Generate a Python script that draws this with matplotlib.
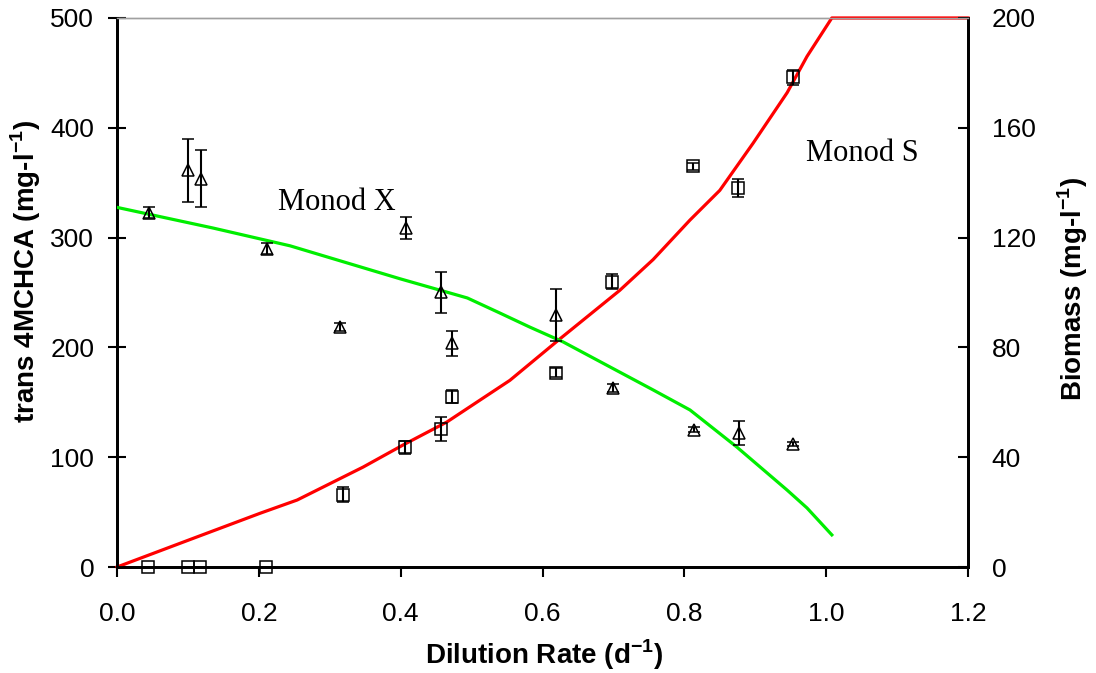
import matplotlib
matplotlib.use("Agg")
from matplotlib import pyplot as plt

# substrate (trans 4MCHCA) measurements, left axis
s_rate = [0.044, 0.100, 0.117, 0.210, 0.319, 0.406, 0.457, 0.472, 0.619, 0.698, 0.812, 0.876, 0.953]
s_conc = [0, 0, 0, 0, 66, 109, 126, 155, 177, 260, 365, 345, 446]
s_err = [0, 0, 0, 0, 7, 6, 11, 6, 4, 7, 3, 8, 7]

# biomass measurements, right axis
x_rate = [0.045, 0.100, 0.118, 0.211, 0.315, 0.408, 0.457, 0.472, 0.619, 0.700, 0.814, 0.877, 0.953]
x_conc = [129, 144.5, 141.5, 116, 87.5, 123.5, 100, 81.5, 91.8, 65.2, 50, 48.8, 44.8]
x_err = [2, 11.4, 10.5, 2, 1.5, 4, 7.6, 4.5, 9.5, 1.5, 1, 4.5, 0.8]

# monod model curves
ms_rate = [0, 0.107, 0.202, 0.254, 0.347, 0.403, 0.465, 0.554, 0.625, 0.709, 0.756,
           0.808, 0.850, 0.897, 0.945, 0.973, 1.008, 1.2]
ms_conc = [0, 26, 49, 61, 91, 111, 132, 170, 208, 252, 280, 316, 343, 386, 432, 465, 500, 500]

mx_rate = [0, 0.135, 0.244, 0.399, 0.494, 0.540, 0.582, 0.629, 0.695, 0.756, 0.808,
           0.874, 0.945, 0.973, 1.008]
mx_conc = [131, 123.5, 117, 105, 98, 92.5, 87.4, 82, 72.9, 64.5, 57.2, 43.7, 28, 21.5, 11.7]

plt.rcParams["font.family"] = ["Liberation Sans", "DejaVu Sans"]
plt.rcParams["mathtext.fontset"] = "custom"
plt.rcParams["mathtext.rm"] = "Liberation Sans"
plt.rcParams["mathtext.bf"] = "Liberation Sans:bold"

fig = plt.figure(figsize=(10.96, 6.73), dpi=100)
ax = fig.add_axes([0.1068, 0.1575, 0.7764, 0.8158])
ax2 = ax.twinx()

# model lines
ax.plot(ms_rate, ms_conc, color="#ff0000", lw=2.3, zorder=3, clip_on=False)
ax2.plot(mx_rate, mx_conc, color="#00ee00", lw=2.3, zorder=3)

# data with error bars
ax.errorbar(s_rate, s_conc, yerr=s_err, fmt="s", ms=8, mfc="none", mec="black",
            mew=1.1, ecolor="black", elinewidth=1.5, capsize=4, capthick=1.5,
            clip_on=False, zorder=4)
ax2.errorbar(x_rate, x_conc, yerr=x_err, fmt="^", ms=9, mfc="none", mec="black",
             mew=1.1, ecolor="black", elinewidth=1.5, capsize=4, capthick=1.5,
             clip_on=False, zorder=4)

ax.set_xlim(0, 1.2)
ax.set_ylim(0, 500)
ax2.set_ylim(0, 200)
ax.set_xticks([0, 0.2, 0.4, 0.6, 0.8, 1.0, 1.2])
ax.set_xticklabels(["0.0", "0.2", "0.4", "0.6", "0.8", "1.0", "1.2"])
ax.set_yticks([0, 100, 200, 300, 400, 500])
ax2.set_yticks([0, 40, 80, 120, 160, 200])

# spines
for a in (ax, ax2):
    a.spines["top"].set_color("#a0a0a0")
    a.spines["top"].set_linewidth(1)
    for side in ("left", "right", "bottom"):
        a.spines[side].set_linewidth(2)
        a.spines[side].set_color("black")

ax.tick_params(axis="x", direction="out", length=7, width=1.5, labelsize=19, pad=18)
ax.tick_params(axis="y", direction="inout", length=13, width=1.5, labelsize=19, pad=10)
ax2.tick_params(axis="y", direction="in", length=7, width=1.5, labelsize=19, pad=17)

# axis titles placed in figure pixels
fig.text(544 / 1096, 1 - 655 / 673, r"Dilution Rate (d$^{\mathbf{-1}}$)", fontsize=20,
         fontweight="bold", ha="center", va="center")
fig.text(26 / 1096, 1 - 272 / 673, r"trans 4MCHCA (mg-l$^{\mathbf{-1}}$)", fontsize=20,
         fontweight="bold", ha="center", va="center", rotation=90)
fig.text(1073 / 1096, 1 - 289 / 673, r"Biomass (mg-l$^{\mathbf{-1}}$)", fontsize=20,
         fontweight="bold", ha="center", va="center", rotation=90)

# curve labels
ax.text(0.310, 332, "Monod X", fontsize=22, family="Liberation Serif", ha="center", va="center")
ax.text(1.051, 377, "Monod S", fontsize=22, family="Liberation Serif", ha="center", va="center")

fig.savefig("out.png", dpi=100)
